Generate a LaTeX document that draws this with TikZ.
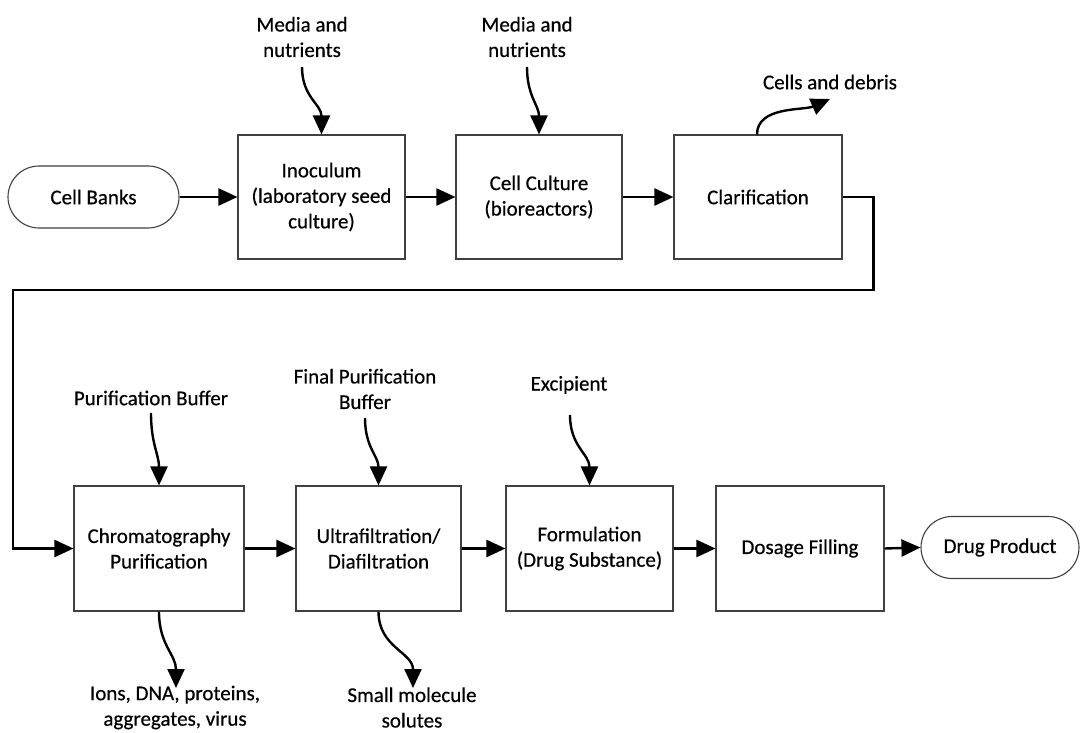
\documentclass[tikz,border=0pt]{standalone}
\usepackage{fontspec}
\setmainfont{Carlito}[FakeBold=0.45]
\usetikzlibrary{arrows.meta,shapes.misc}
\begin{document}
\begin{tikzpicture}[x=1pt,y=-1pt,
  txt/.style={font=\fontsize{21}{25.5}\selectfont, align=center, inner sep=0pt},
  stepbox/.style={txt, draw=black!75, line width=1.1pt, fill=white,
    minimum width=167pt, minimum height=124pt},
  terminal/.style={txt, draw=black!75, line width=1.1pt, rounded rectangle,
    minimum height=62pt},
  flow/.style={line width=2.4pt, -{Triangle[length=19pt,width=17pt]}},
  wavy/.style={flow, looseness=1.1}
]
\useasboundingbox[fill=white] (0,0) rectangle (1080,733);

% upstream row
\node[terminal, minimum width=171pt] (cb) at (93.5,197) {Cell Banks};
\node[stepbox] (inoc) at (321.5,197) {Inoculum\\(laboratory seed\\culture)};
\node[stepbox, minimum width=166pt] (cult) at (539,197) {Cell Culture\\(bioreactors)};
\node[stepbox, minimum width=168pt] (clar) at (758,197) {Clarification};

% downstream row
\node[stepbox, minimum width=170pt, minimum height=125pt] (chrom) at (159,548.5) {Chromatography\\Purification};
\node[stepbox, minimum width=165pt, minimum height=125pt] (ultra) at (378.5,548.5) {Ultrafiltration/\\Diafiltration};
\node[stepbox, minimum height=125pt] (form) at (589.5,548.5) {Formulation\\(Drug Substance)};
\node[stepbox, minimum width=168pt, minimum height=125pt] (dose) at (800,548.5) {Dosage Filling};
\node[terminal, minimum width=158pt] (dp) at (1000,547.5) {Drug Product};

% inputs and outputs
\node[txt] (media1) at (302,37) {Media and\\nutrients};
\node[txt] (media2) at (527,37) {Media and\\nutrients};
\node[txt] (debris) at (830,82) {Cells and debris};
\node[txt] (pbuf) at (151,398) {Purification Buffer};
\node[txt] (fbuf) at (365,389) {Final Purification\\Buffer};
\node[txt] (excip) at (569,385) {Excipient};
\node[txt] (ions) at (175,707.5) {Ions, DNA, proteins,\\aggregates, virus};
\node[txt] (small) at (412,707.5) {Small molecule\\solutes};

\coordinate (media1s) at (302,67);
\coordinate (media2s) at (527,67);
\coordinate (debrise) at (830,99);
\coordinate (pbufs) at (151,413);
\coordinate (fbufs) at (365,418);
\coordinate (excips) at (570,415);
\coordinate (ionse) at (176,688);
\coordinate (smalle) at (413,688);
\coordinate (loopL) at (12.7,290);

% main process flow
\draw[flow] (cb.east) -- (inoc.west);
\draw[flow] (inoc.east) -- (cult.west);
\draw[flow] (cult.east) -- (clar.west);
\draw[flow] (clar.east) -- ++(31,0) |- (loopL) |- (chrom.west);
\draw[flow] (chrom.east) -- (ultra.west);
\draw[flow] (ultra.east) -- (form.west);
\draw[flow] (form.east) -- (dose.west);
\draw[flow] (dose.east) -- (dp.west);

% side streams
\draw[wavy] (media1s) to[out=-90,in=90] (inoc.north);
\draw[wavy] (media2s) to[out=-90,in=90] (cult.north);
\draw[flow] ([xshift=-1pt]clar.north) to[out=90,in=204,looseness=0.9] (debrise);
\draw[wavy] (pbufs) to[out=-90,in=90] (chrom.north);
\draw[wavy] (fbufs) to[out=-90,in=90] (ultra.north);
\draw[wavy] (excips) to[out=-90,in=90] (form.north);
\draw[wavy] (chrom.south) to[out=-90,in=90] (ionse);
\draw[wavy] (ultra.south) to[out=-90,in=90] (smalle);
\end{tikzpicture}
\end{document}
